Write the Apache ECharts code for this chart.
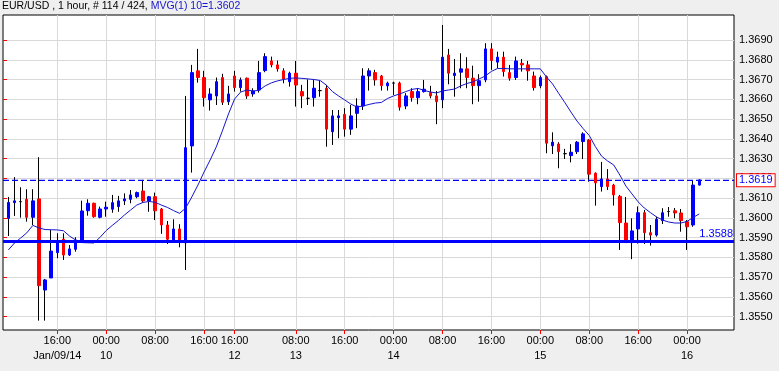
<!DOCTYPE html>
<html><head><meta charset="utf-8">
<script src="https://cdn.jsdelivr.net/npm/echarts@6/dist/echarts.min.js"></script>
<style>html,body{margin:0;padding:0;background:#efefef}#c{width:779px;height:371px}</style>
</head><body><div id="c"></div>
<script>
const opens = [1.35997,1.36077,1.36082,1.36094,1.36003,1.36096,1.35635,1.35696,1.35824,1.35892,
1.35812,1.35841,1.35880,1.36036,1.36074,1.36003,1.36045,1.36044,1.36057,1.36086,
1.36094,1.36107,1.36136,1.36086,1.36107,1.36045,1.35964,1.35883,1.35944,1.35874,
1.36364,1.36744,1.36710,1.36597,1.36617,1.36710,1.36588,1.36718,1.36659,1.36707,
1.36627,1.36647,1.36745,1.36794,1.36774,1.36744,1.36689,1.36732,1.36639,1.36605,
1.36608,1.36644,1.36656,1.36436,1.36507,1.36524,1.36449,1.36529,1.36566,1.36718,
1.36735,1.36718,1.36668,1.36682,1.36682,1.36566,1.36639,1.36608,1.36639,1.36634,
1.36617,1.36597,1.36824,1.36720,1.36737,1.36754,1.36707,1.36669,1.36698,1.36855,
1.36788,1.36813,1.36735,1.36710,1.36782,1.36774,1.36718,1.36668,1.36715,1.36365,
1.36374,1.36325,1.36315,1.36335,1.36386,1.36394,1.36226,1.36158,1.36197,1.36166,
1.36109,1.35974,1.35875,1.35944,1.36026,1.35925,1.35913,1.35986,1.36032,1.36036,
1.36025,1.35981,1.35964,1.36166];
const closes = [1.36078,1.36086,1.36082,1.36003,1.36086,1.35657,1.35686,1.35832,1.35885,1.35812,
1.35843,1.35888,1.36035,1.36074,1.36006,1.36045,1.36054,1.36077,1.36086,1.36096,
1.36116,1.36128,1.36086,1.36107,1.36036,1.35964,1.35892,1.35944,1.35883,1.36355,
1.36735,1.36710,1.36608,1.36627,1.36689,1.36585,1.36627,1.36659,1.36698,1.36617,
1.36642,1.36735,1.36816,1.36774,1.36754,1.36703,1.36732,1.36672,1.36617,1.36605,
1.36656,1.36644,1.36449,1.36516,1.36516,1.36449,1.36516,1.36566,1.36718,1.36744,
1.36698,1.36669,1.36682,1.36682,1.36560,1.36617,1.36608,1.36639,1.36651,1.36617,
1.36588,1.36813,1.36732,1.36732,1.36754,1.36710,1.36669,1.36694,1.36855,1.36796,
1.36813,1.36740,1.36707,1.36794,1.36774,1.36744,1.36659,1.36710,1.36378,1.36383,
1.36335,1.36325,1.36332,1.36383,1.36425,1.36221,1.36177,1.36197,1.36158,1.36116,
1.35976,1.35875,1.35934,1.36026,1.35925,1.35913,1.35993,1.36026,1.36032,1.36025,
1.35986,1.35955,1.36166,1.36192];
const lows = [1.35908,1.36010,1.36001,1.35981,1.35964,1.35480,1.35480,1.35696,1.35796,1.35787,
1.35807,1.35829,1.35873,1.36011,1.36001,1.35998,1.36006,1.36026,1.36031,1.36065,
1.36074,1.36099,1.36077,1.36031,1.35989,1.35919,1.35868,1.35880,1.35851,1.35736,
1.36229,1.36684,1.36563,1.36543,1.36571,1.36571,1.36571,1.36639,1.36639,1.36602,
1.36613,1.36634,1.36737,1.36762,1.36740,1.36681,1.36664,1.36563,1.36555,1.36571,
1.36563,1.36613,1.36360,1.36369,1.36403,1.36411,1.36420,1.36454,1.36546,1.36644,
1.36669,1.36644,1.36644,1.36622,1.36543,1.36550,1.36588,1.36575,1.36634,1.36605,
1.36474,1.36555,1.36676,1.36613,1.36656,1.36656,1.36575,1.36588,1.36686,1.36749,
1.36757,1.36715,1.36694,1.36698,1.36740,1.36694,1.36644,1.36656,1.36327,1.36323,
1.36251,1.36298,1.36281,1.36323,1.36298,1.36183,1.36062,1.36133,1.36141,1.36062,
1.35838,1.35873,1.35791,1.35870,1.35868,1.35860,1.35905,1.35969,1.36006,1.35998,
1.35930,1.35838,1.35955,1.36164];
const highs = [1.36106,1.36206,1.36155,1.36145,1.36145,1.36307,1.35691,1.35939,1.35922,1.35922,
1.35863,1.35902,1.36087,1.36094,1.36077,1.36057,1.36082,1.36116,1.36111,1.36124,
1.36141,1.36133,1.36192,1.36111,1.36128,1.36050,1.35984,1.35993,1.35968,1.36617,
1.36774,1.36855,1.36744,1.36656,1.36710,1.36729,1.36668,1.36744,1.36710,1.36710,
1.36656,1.36794,1.36833,1.36816,1.36796,1.36757,1.36740,1.36794,1.36673,1.36701,
1.36701,1.36694,1.36673,1.36546,1.36546,1.36555,1.36571,1.36605,1.36757,1.36757,
1.36749,1.36723,1.36689,1.36689,1.36689,1.36631,1.36656,1.36656,1.36698,1.36668,
1.36642,1.36976,1.36855,1.36804,1.36833,1.36813,1.36770,1.36727,1.36884,1.36884,
1.36841,1.36841,1.36774,1.36816,1.36804,1.36794,1.36740,1.36720,1.36720,1.36433,
1.36383,1.36349,1.36373,1.36389,1.36433,1.36399,1.36230,1.36283,1.36247,1.36172,
1.36116,1.36106,1.35998,1.36058,1.36040,1.35964,1.36006,1.36049,1.36055,1.36050,
1.36045,1.35989,1.36187,1.36195];
const maValues = [1.35838,1.35873,1.35898,1.35924,1.35962,1.35949,1.35941,1.35940,1.35939,1.35935,
1.35908,1.35888,1.35875,1.35874,1.35873,1.35902,1.35936,1.35962,1.35987,1.36015,
1.36040,1.36065,1.36078,1.36083,1.36079,1.36065,1.36053,1.36037,1.36023,1.36050,
1.36106,1.36166,1.36232,1.36293,1.36359,1.36440,1.36526,1.36602,1.36637,1.36647,
1.36642,1.36645,1.36668,1.36683,1.36693,1.36700,1.36706,1.36708,1.36706,1.36703,
1.36700,1.36695,1.36672,1.36639,1.36617,1.36597,1.36576,1.36561,1.36566,1.36574,
1.36581,1.36584,1.36604,1.36617,1.36627,1.36639,1.36650,1.36655,1.36645,1.36637,
1.36632,1.36642,1.36647,1.36652,1.36668,1.36680,1.36688,1.36703,1.36718,1.36741,
1.36756,1.36756,1.36754,1.36754,1.36754,1.36754,1.36754,1.36754,1.36713,1.36678,
1.36630,1.36584,1.36536,1.36490,1.36452,1.36417,1.36361,1.36313,1.36288,1.36268,
1.36217,1.36161,1.36121,1.36081,1.36050,1.36027,1.36005,1.35989,1.35979,1.35974,
1.35974,1.35982,1.36002,1.36020];
const slotCount = 120;
const labelIdx = [8,16,24,32,37,47,55,63,71,79,87,95,103,111];
const labelText = ['16:00\nJan/09/14','00:00\n10','08:00','16:00','16:00\n12','08:00\n13','16:00','00:00\n14','08:00','16:00','00:00\n15','08:00','16:00','00:00\n16'];
const yTickMin = 1.3550, yTickMax = 1.3690, yTickStep = 0.001;
const currentPrice = 1.3619;
const levelPrice = 1.3588;
const titleMain = 'EUR/USD , 1 hour, # 114 / 424, ';
const titleMa = 'MVG(1) 10=1.3602';

const FONT = 'Liberation Sans, Arial, sans-serif';
const categories = Array.from({length: slotCount}, (_, i) => String(i));
const labelMap = {};
labelIdx.forEach((k, j) => { labelMap[k] = labelText[j]; });
const showIdx = (i) => labelMap[i] !== undefined;
const full = opens.map((o, i) => [o, closes[i], lows[i], highs[i]]);
const bodies = opens.map((o, i) => [o, closes[i], Math.min(o, closes[i]), Math.max(o, closes[i])]);

// pixel scale: 1.3690 at y=40, 1.3550 at y=316.7
const pxPer = (316.7 - 40) / (yTickMax - yTickMin);
const plotTop = 15, plotBottom = 330;
const cMax = yTickMax + (40 - plotTop) / pxPer;
const cMin = yTickMin - (plotBottom - 316.7) / pxPer;
const step = 6.114;

const chart = echarts.init(document.getElementById('c'));
chart.setOption({
  animation: false,
  backgroundColor: '#efefef',
  title: {
    left: 2, top: 1, padding: 0,
    text: '{a|' + titleMain + '}{b|' + titleMa + '}',
    textStyle: { fontSize: 10.5, fontWeight: 'normal', fontFamily: FONT,
      rich: { a: { color: '#000', fontSize: 10.5, fontFamily: FONT }, b: { color: '#1515cc', fontSize: 10.5, fontFamily: FONT } } }
  },
  grid: [
    { left: 3, top: plotTop, width: 731, height: plotBottom - plotTop, show: true, backgroundColor: '#fff', borderColor: '#000', borderWidth: 1 },
    { left: 3, top: 40, width: 731, height: 276.7 },
    { left: 8.4, top: plotTop, width: step * (slotCount - 1), height: plotBottom - plotTop }
  ],
  xAxis: [
    { gridIndex: 0, type: 'value', show: false, min: 0, max: 1 },
    { gridIndex: 1, type: 'value', show: false, min: 0, max: 1 },
    { gridIndex: 2, type: 'category', data: categories, boundaryGap: false,
      axisLine: { show: false },
      axisTick: { show: true, length: 4, interval: showIdx, lineStyle: { color: '#ff0000' } },
      splitLine: { show: true, interval: showIdx, lineStyle: { color: '#d9d9d9', width: 1 } },
      axisLabel: { interval: showIdx, formatter: (v, i) => labelMap[+v] || '', color: '#000', fontSize: 11, fontFamily: FONT, lineHeight: 15, margin: 3 } }
  ],
  yAxis: [
    { gridIndex: 0, type: 'value', show: false, min: cMin, max: cMax },
    { gridIndex: 1, type: 'value', position: 'right', min: yTickMin, max: yTickMax, interval: yTickStep,
      axisLine: { show: false },
      axisTick: { show: true, length: 4, lineStyle: { color: '#ff0000' } },
      splitLine: { show: true, lineStyle: { color: '#d9d9d9', width: 1 } },
      axisLabel: { formatter: v => v.toFixed(4), color: '#000', fontSize: 11, fontFamily: FONT, margin: 5 } },
    { gridIndex: 2, type: 'value', show: false, min: cMin, max: cMax, splitLine: { show: false } }
  ],
  series: [
    { type: 'candlestick', xAxisIndex: 2, yAxisIndex: 2, data: full, barWidth: 1, clip: false, z: 3,
      itemStyle: { color: '#000', color0: '#000', borderColor: '#000', borderColor0: '#000', borderColorDoji: '#000', borderWidth: 1 } },
    { type: 'candlestick', xAxisIndex: 2, yAxisIndex: 2, data: bodies, barWidth: 3, clip: false, z: 4,
      itemStyle: { color: '#0000ff', color0: '#ff0000', borderColor: '#0000ff', borderColor0: '#ff0000', borderColorDoji: '#000', borderWidth: 1 } },
    { type: 'line', xAxisIndex: 2, yAxisIndex: 2, data: maValues, symbol: 'none', z: 5,
      lineStyle: { color: '#1515cc', width: 1 } },
    { type: 'line', xAxisIndex: 1, yAxisIndex: 1, z: 6, symbol: 'none', clip: false,
      data: [[0, currentPrice], [1, currentPrice]],
      lineStyle: { type: [6, 3], color: '#0000ff', width: 1.2 },
      endLabel: { show: true, distance: 3, formatter: currentPrice.toFixed(4), color: '#0000ff', fontSize: 11, fontFamily: FONT,
        borderColor: '#ff0000', borderWidth: 1, padding: [1, 2, 0, 2], backgroundColor: '#fff' } },
    { type: 'line', xAxisIndex: 1, yAxisIndex: 1, z: 6, symbol: 'none', clip: false,
      data: [[0, levelPrice], [1, levelPrice]],
      lineStyle: { type: 'solid', color: '#0000ff', width: 3 },
      endLabel: { show: true, distance: 0, align: 'right', verticalAlign: 'bottom', offset: [-1, -2],
        formatter: levelPrice.toFixed(4), color: '#0000ff', fontSize: 11, fontFamily: FONT } }
  ]
});
</script>
</body></html>
